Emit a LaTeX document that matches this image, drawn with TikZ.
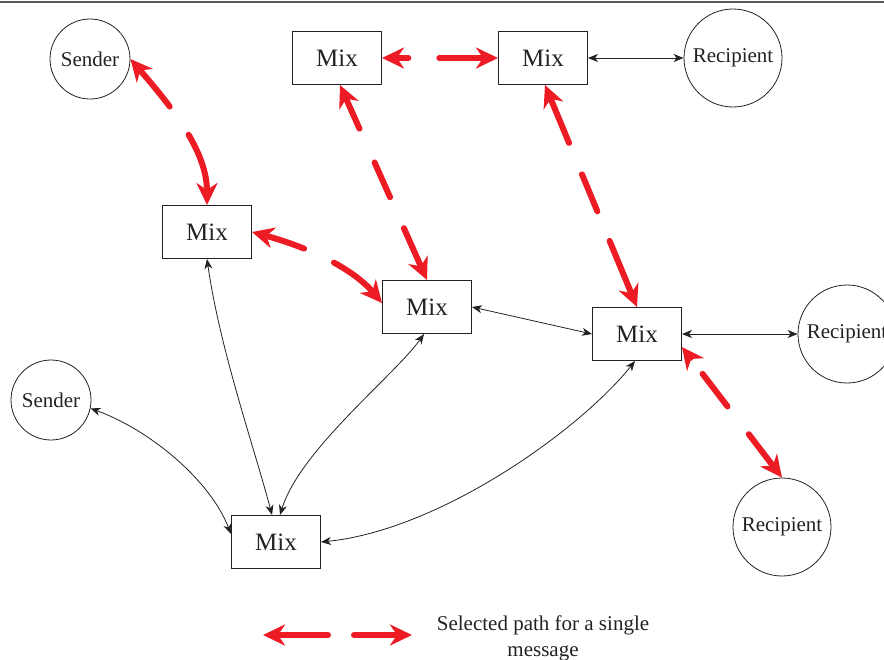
\documentclass[tikz,border=0pt]{standalone}
\usepackage{fontspec}
\setmainfont{Liberation Serif}
\usetikzlibrary{arrows.meta}
\definecolor{redpath}{HTML}{ED1C24}
\definecolor{ink}{HTML}{222222}
\begin{document}
\begin{tikzpicture}[x=1pt,y=-1pt,
  mixbox/.style={draw=ink, line width=1pt, minimum width=89pt, minimum height=53pt, inner sep=0pt, text=ink, font=\fontsize{25}{28}\selectfont},
  endpt/.style={draw=ink, circle, line width=0.8pt, inner sep=0pt, text=ink, font=\fontsize{21}{24}\selectfont},
  redtip/.tip={Stealth[length=22pt,width=21pt,inset=7pt]},
  sel/.style={draw=redpath, line width=6pt, line cap=round, redtip-redtip},
  legarrow/.style={draw=redpath, line width=6pt, line cap=round, -redtip},
  blacktip/.tip={Stealth[length=10pt,width=8pt,inset=3pt]},
  link/.style={draw=ink, line width=0.8pt, blacktip-blacktip}
]
\useasboundingbox (0,0) rectangle (884,659);
\clip (0,0) rectangle (884,659);
\draw[black!65, line width=2pt] (0,2) -- (884,2);

% nodes
\node[endpt, minimum size=80pt] (s1) at (90,59) {Sender};
\node[endpt, minimum size=80pt] (s2) at (51,400) {Sender};
\node[endpt, minimum size=98pt] (r1) at (733,58) {Recipient};
\node[endpt, minimum size=98pt] (r2) at (847,334) {Recipient};
\node[endpt, minimum size=98pt] (r3) at (782,527) {Recipient};
\node[mixbox] (m1) at (337,58) {Mix};
\node[mixbox] (m2) at (543,58) {Mix};
\node[mixbox] (m3) at (207,232) {Mix};
\node[mixbox] (m4) at (427,307) {Mix};
\node[mixbox] (m5) at (637,334) {Mix};
\node[mixbox] (m6) at (276,542) {Mix};

% black links
\draw[link] (m2.east) -- (r1.west);
\draw[link] (m5.east) -- (r2.west);
\draw[link] (m4.east) -- (m5.west);
\draw[link] (m3.south) .. controls (220,350) and (255,450) .. ([xshift=-4pt]m6.north);
\draw[link] ([xshift=-3pt]m4.south) .. controls (395,375) and (300,450) .. ([xshift=4pt]m6.north);
\draw[link] (s2.-12) .. controls (150,430) and (210,480) .. ([yshift=8pt]m6.west);
\draw[link] ([xshift=-2pt]m5.south) .. controls (580,430) and (440,530) .. (m6.east);

% selected path (red)
\draw[sel, dash pattern=on 48pt off 34pt on 80pt] (s1.east) .. controls (170,105) and (207,150) .. (m3.north);
\draw[sel, dash pattern=on 45pt off 31pt on 40pt] (m2.west) -- (m1.east);
\draw[sel, dash pattern=on 43pt off 34pt on 38pt off 37pt on 60pt] (m4.north) -- ([xshift=3pt]m1.south);
\draw[sel, dash pattern=on 49pt off 34pt on 40pt off 32pt on 60pt] ([xshift=2pt]m2.south) -- (m5.north);
\draw[sel, dash pattern=on 41pt off 33pt on 60pt] (m3.east) .. controls (300,245) and (350,265) .. ([yshift=4pt]m4.west);
\draw[sel, dash pattern=on 41pt off 35pt on 41pt off 20pt] (r3.north) -- ([yshift=-13pt]m5.east);

% legend
\coordinate (la1) at (328,635);
\coordinate (la2) at (263,635);
\coordinate (lb1) at (354,635);
\coordinate (lb2) at (412,635);
\draw[legarrow] (la1) -- (la2);
\draw[legarrow] (lb1) -- (lb2);
\node[text=ink, align=center, font=\fontsize{21}{26}\selectfont] (legend) at (543,638) {Selected path for a single\\message};
\end{tikzpicture}
\end{document}
